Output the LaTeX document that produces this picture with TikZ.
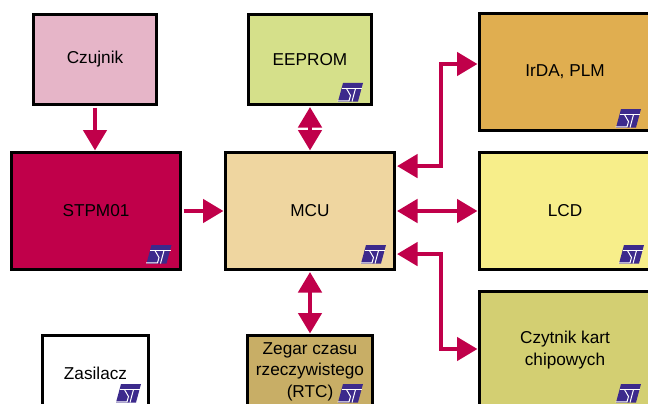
\documentclass[tikz,border=0pt]{standalone}
\usepackage{fontspec}
\setmainfont{Liberation Sans}
\usetikzlibrary{arrows.meta}
\definecolor{acc}{HTML}{C0004A}
\definecolor{stp}{HTML}{3C2A8C}
\tikzset{
  x=1pt,y=-1pt,
  box/.style={draw=black,line width=3pt,outer sep=0pt,inner sep=0pt,align=center,
    font=\fontsize{17.2}{21.5}\selectfont},
  link/.style={draw=acc,line width=4.5pt,
    {Triangle[length=20.5pt,width=23pt,fill=acc]}-{Triangle[length=20.5pt,width=23pt,fill=acc]},
    shorten <=2.5pt,shorten >=2pt},
  oneway/.style={draw=acc,line width=4.5pt,-{Triangle[length=20.5pt,width=23pt,fill=acc]},
    shorten <=3pt,shorten >=2pt},
  stlogo/.pic={
    \fill[stp] (5,0) -- (25,0) -- (20,18.5) -- (0,18.5) -- cycle;
    \draw[white,line width=1pt] (3.8,5.6) -- (24,5.6);
    \draw[white,line width=1pt] (8.5,5.6) -- (12.5,12.5) -- (11,17.9) -- (-0.5,17.9);
    \draw[white,line width=1pt] (17.5,5.6) -- (14,18.5);
  }
}
\begin{document}
\begin{tikzpicture}
\useasboundingbox (0,0) rectangle (648,404);
\clip (0,0) rectangle (648,404);
\node[box,fill={rgb,255:red,230;green,181;blue,200},minimum width=123pt,minimum height=90pt] (czu) at (95,59.5) {Czujnik};
\node[box,fill=acc,minimum width=169pt,minimum height=117pt] (stpm) at (96,211) {STPM01};
\node[box,fill={rgb,255:red,239;green,214;blue,160},minimum width=169pt,minimum height=117pt] (mcu) at (310,211) {MCU};
\node[box,fill={rgb,255:red,213;green,224;blue,138},minimum width=123pt,minimum height=90pt] (eep) at (310,59.5) {EEPROM};
\node[box,fill={rgb,255:red,224;green,174;blue,80},minimum width=171pt,minimum height=116pt] (irda) at (565,72) {IrDA, PLM};
\node[box,fill={rgb,255:red,247;green,238;blue,138},minimum width=171pt,minimum height=117pt] (lcd) at (565,211) {LCD};
\node[box,fill={rgb,255:red,211;green,207;blue,114},minimum width=171pt,minimum height=117pt] (czy) at (565,350) {Czytnik kart\\chipowych};
\node[box,fill=white,minimum width=106pt,minimum height=75pt] (zas) at (95.5,373) {Zasilacz};
\node[box,fill={rgb,255:red,200;green,174;blue,102},minimum width=125pt,minimum height=72pt] (rtc) at (310,371.5) {Zegar czasu\\rzeczywistego\\(RTC)};
\coordinate (b1) at (441,64);
\coordinate (b2) at (441,349);
\pic at (146.5,245) {stlogo};
\pic at (361,245) {stlogo};
\pic at (338,83) {stlogo};
\pic at (616,109) {stlogo};
\pic at (619,245) {stlogo};
\pic at (616,384) {stlogo};
\pic at (116,384) {stlogo};
\pic at (338,384) {stlogo};
\draw[oneway] (czu.south) -- (stpm.north -| czu.south);
\draw[oneway] (stpm.east) -- (mcu.west);
\draw[link] (eep.south) -- (mcu.north -| eep.south);
\draw[link] (mcu.south -| rtc.north) -- (rtc.north);
\draw[link] (mcu.east) -- (lcd.west);
\draw[link] (mcu.28.7) -| (b1) -- (b1 -| irda.west);
\draw[link] (mcu.-27.1) -| (b2) -- (b2 -| czy.west);
\end{tikzpicture}
\end{document}
